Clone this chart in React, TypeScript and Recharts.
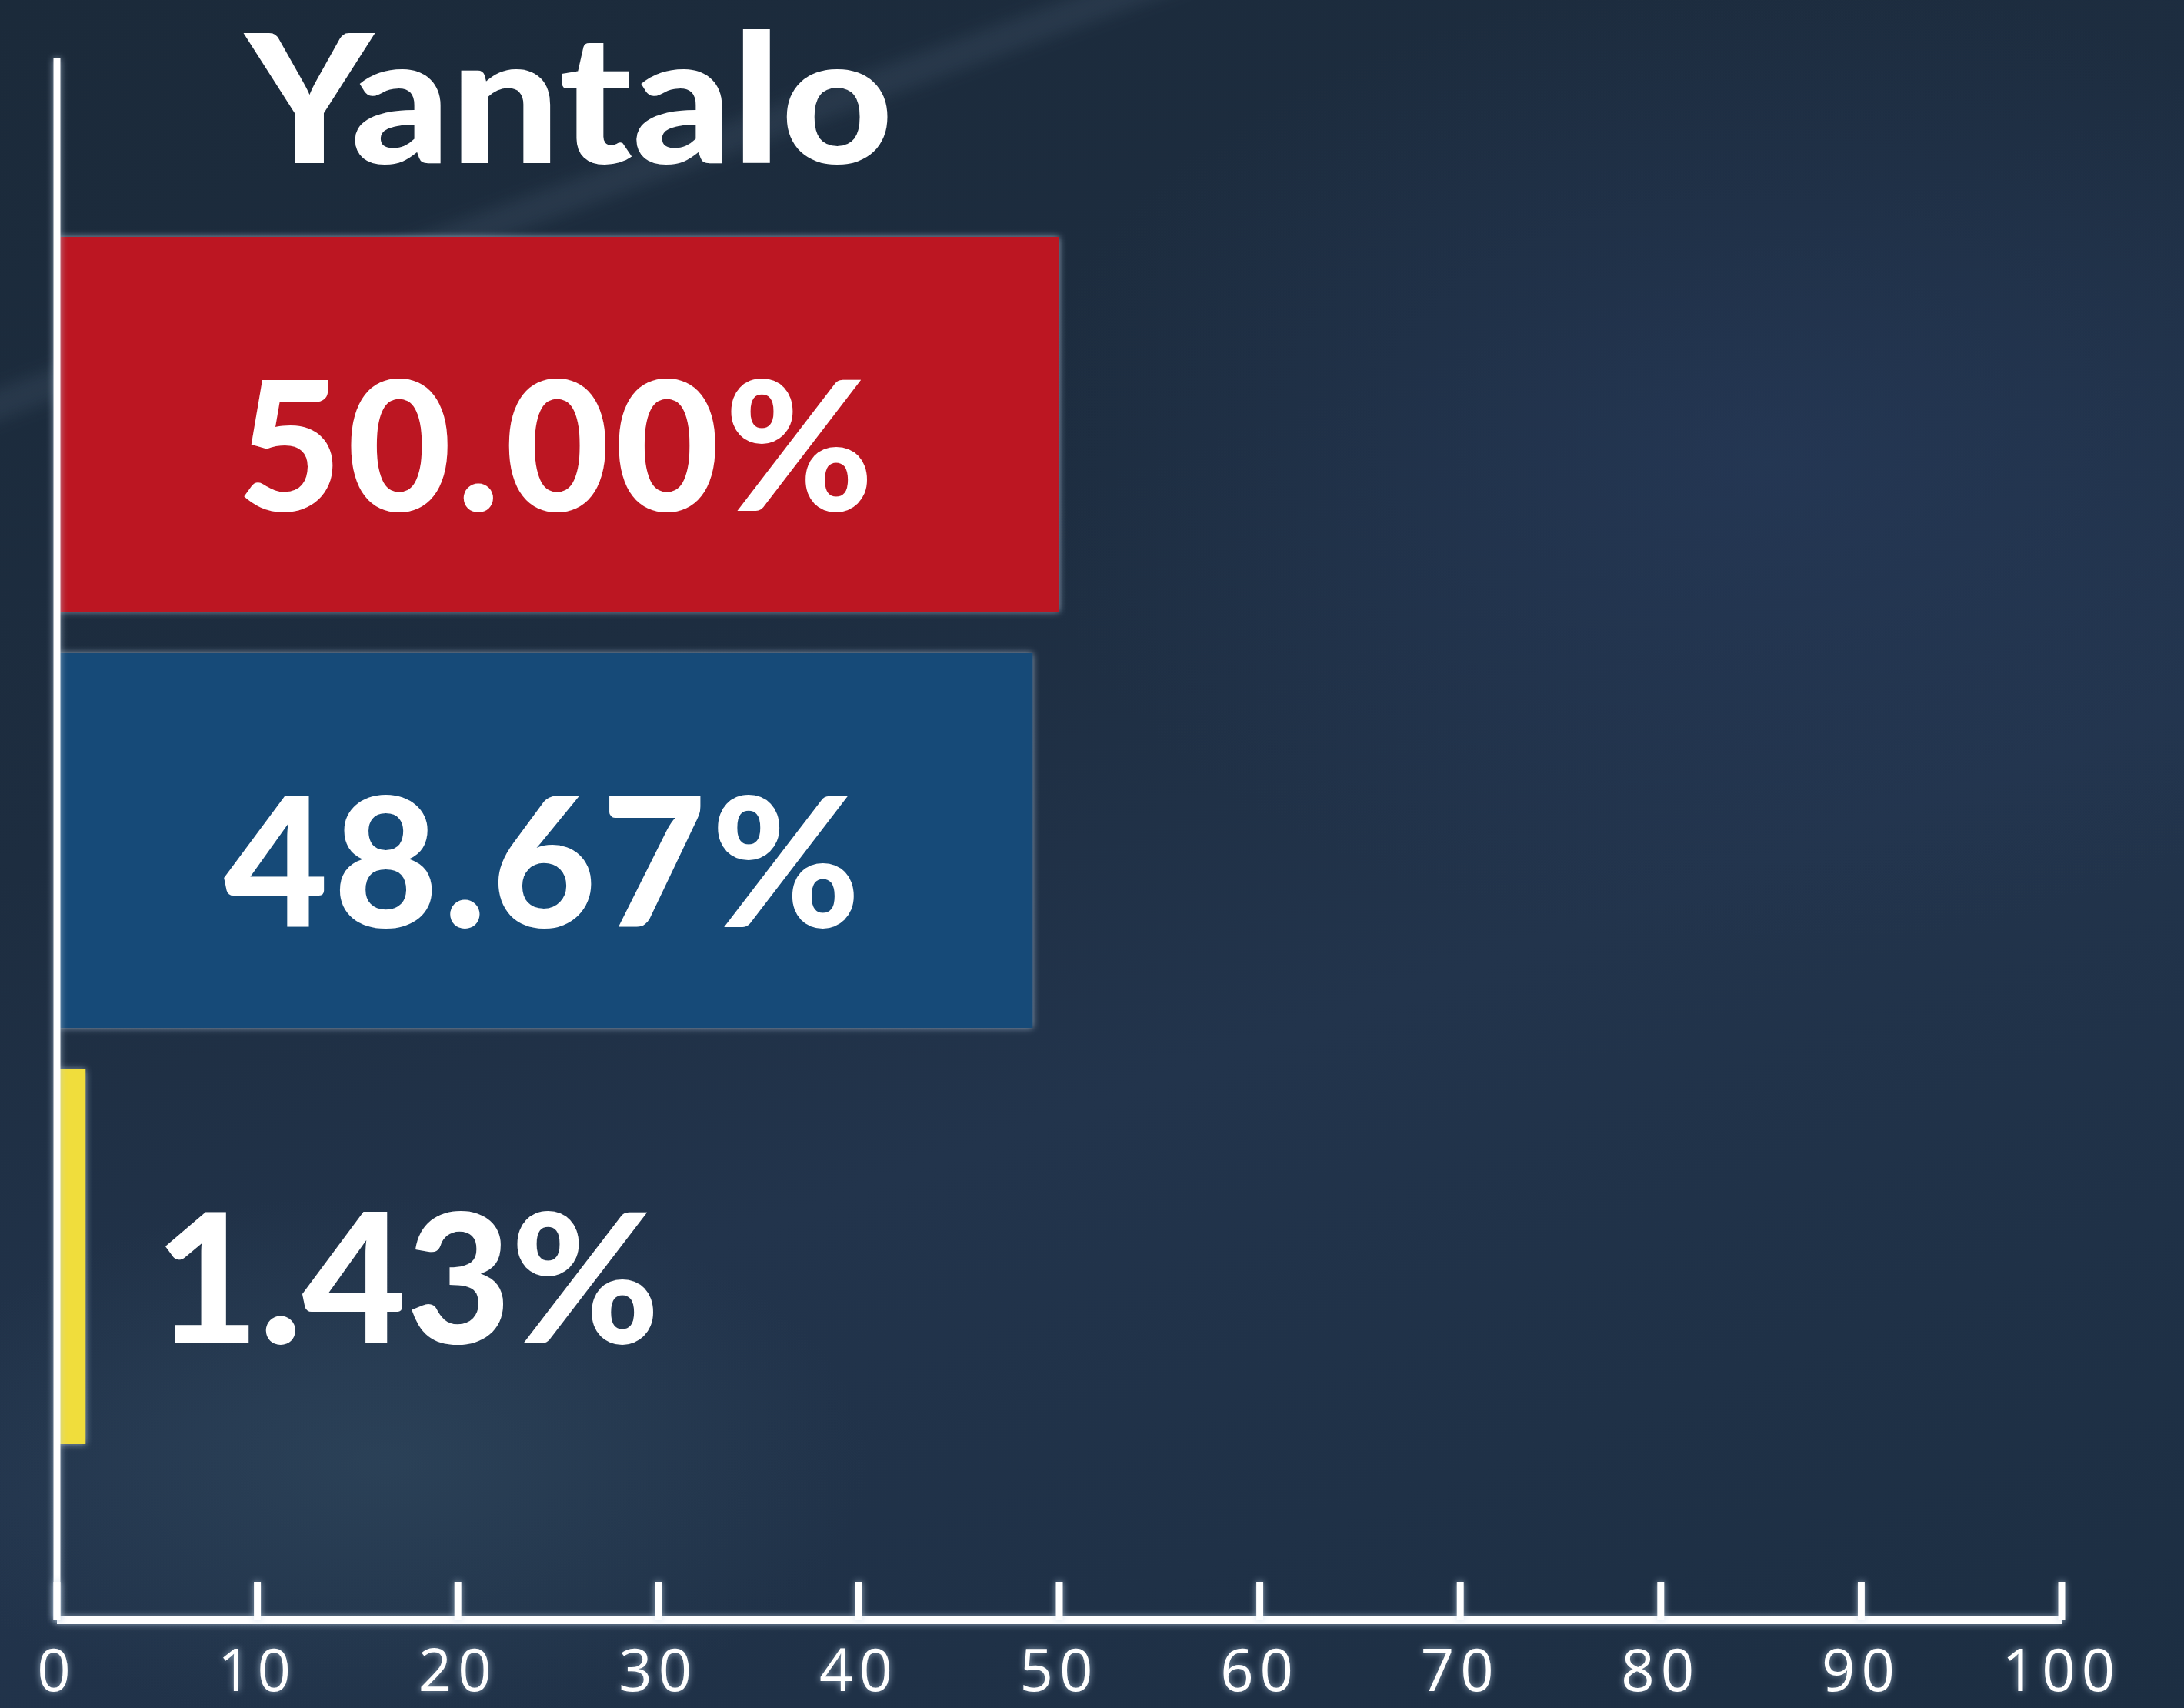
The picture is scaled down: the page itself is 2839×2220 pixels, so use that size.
import { BarChart, Bar, XAxis, YAxis, Cell, LabelList } from 'recharts';

// datos del gráfico: resultados Yantalo
const candidatos = ['Candidato A', 'Candidato B', 'Candidato C'];
const porcentajes = [50.0, 48.67, 1.43];
const colores = ['#BC1622', '#164A78', '#F0DD3C'];
const ticksX = [0, 10, 20, 30, 40, 50, 60, 70, 80, 90, 100];
const titulo = 'Yantalo';

const data = candidatos.map((c, i) => ({ nombre: c, valor: porcentajes[i] }));

const W = 2839;
const H = 2220;
const brillo = 'drop-shadow(0 0 5px rgba(190,210,230,0.7))';

const TickAbajo = (props: any) => {
  const { x, y, payload } = props;
  return (
    <g style={{ filter: brillo }}>
      <line x1={x} x2={x} y1={y - 50} y2={y} stroke="#fff" strokeWidth={9} />
      <text
        x={x}
        y={y + 92}
        textAnchor="middle"
        fill="#fff"
        fontFamily="'Open Sans', sans-serif"
        fontWeight={400}
        fontSize={76}
        letterSpacing={8}
      >
        {payload.value}
      </text>
    </g>
  );
};

const Etiqueta = (props: any) => {
  const { x, y, width, height, value } = props;
  const v = Number(value);
  const grande = v > 10;
  const tx = grande ? x + width / 2 : x + width + 90;
  return (
    <text
      x={tx}
      y={y + height / 2 + 112}
      textAnchor={grande ? 'middle' : 'start'}
      fill="#fff"
      fontFamily="Lato, sans-serif"
      fontWeight={900}
      fontSize={234}
      letterSpacing={grande ? 7 : 0}
    >
      {v.toFixed(2) + '%'}
    </text>
  );
};

export default function App() {
  return (
    <div
      style={{
        position: 'absolute',
        left: 0,
        top: 0,
        width: W,
        height: H,
        overflow: 'hidden',
        background:
          'radial-gradient(ellipse 900px 500px at 500px 1900px, rgba(60,90,110,0.35), transparent 70%),' +
          'radial-gradient(ellipse 1400px 900px at 2300px 600px, rgba(40,60,95,0.55), transparent 70%),' +
          'linear-gradient(160deg, #1b2a3a 0%, #1d2d40 35%, #22344c 60%, #1c2e42 100%)',
      }}
    >
      <div
        style={{
          position: 'absolute',
          left: -200,
          top: 250,
          width: 1800,
          height: 40,
          background: 'rgba(120,150,170,0.12)',
          transform: 'rotate(-20deg)',
          filter: 'blur(10px)',
        }}
      />
      <BarChart
        width={W}
        height={H}
        data={data}
        layout="vertical"
        margin={{ top: 76, right: 159, bottom: 14, left: 73 }}
        barCategoryGap={27}
        style={{ position: 'absolute', left: 0, top: 0 }}
      >
        <XAxis
          type="number"
          domain={[0, 100]}
          ticks={ticksX}
          interval={0}
          height={100}
          tickLine={false}
          tickSize={0}
          tickMargin={0}
          tick={<TickAbajo />}
          axisLine={{ stroke: '#fff', strokeWidth: 10, style: { filter: brillo } }}
          allowDataOverflow
        />
        <YAxis
          type="category"
          dataKey="nombre"
          width={1}
          tick={false}
          tickLine={false}
          axisLine={{ stroke: '#fff', strokeWidth: 9, style: { filter: brillo } }}
          padding={{ top: 205, bottom: 202 }}
        />
        <Bar dataKey="valor" isAnimationActive={false}>
          {data.map((d, i) => (
            <Cell key={d.nombre} fill={colores[i]} style={{ filter: brillo }} />
          ))}
          <LabelList dataKey="valor" content={<Etiqueta />} />
        </Bar>
      </BarChart>
      <svg width={W} height={H} style={{ position: 'absolute', left: 0, top: 0, pointerEvents: 'none' }}>
        <text
          x={319}
          y={212}
          fill="#fff"
          fontFamily="Lato, sans-serif"
          fontWeight={900}
          fontSize={232}
          textLength={842}
          lengthAdjust="spacingAndGlyphs"
        >
          {titulo}
        </text>
      </svg>
    </div>
  );
}
